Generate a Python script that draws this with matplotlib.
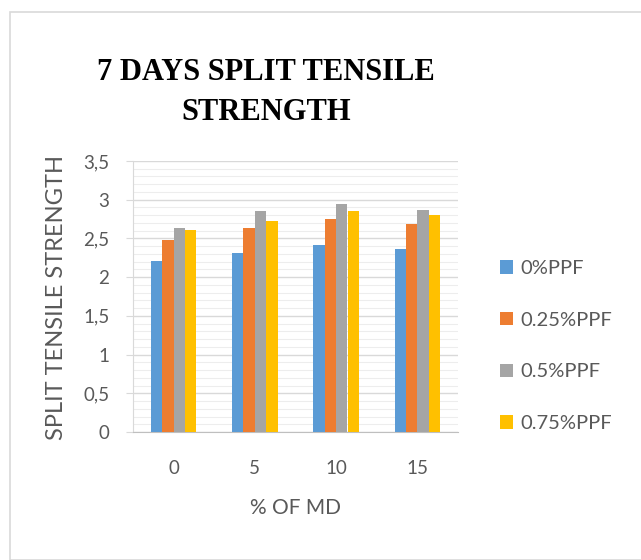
import numpy as np
import matplotlib.pyplot as plt
from matplotlib.patches import Rectangle
from matplotlib.ticker import MultipleLocator

# data
md_percent = ["0", "5", "10", "15"]
series_names = ["0%PPF", "0.25%PPF", "0.5%PPF", "0.75%PPF"]
ppf_0 = [2.21, 2.31, 2.41, 2.36]
ppf_025 = [2.48, 2.63, 2.75, 2.68]
ppf_05 = [2.63, 2.85, 2.95, 2.87]
ppf_075 = [2.61, 2.73, 2.85, 2.80]
colors = ["#5B9BD5", "#ED7D31", "#A5A5A5", "#FFC000"]

plt.rcParams['font.family'] = ['Lato', 'DejaVu Sans']
txt_color = "#595959"

fig = plt.figure(figsize=(6.41, 5.6), dpi=100)
fig.patches.append(Rectangle((10/641, 0.0), 1.0, 1 - 12/560, transform=fig.transFigure,
                             fill=False, edgecolor="#D9D9D9", linewidth=1.2))

ax = fig.add_axes([133/641, 1 - 432/560, (458 - 133)/641, (432 - 161)/560])

x = np.arange(len(md_percent))
w = 0.14
all_vals = [ppf_0, ppf_025, ppf_05, ppf_075]
for i, vals in enumerate(all_vals):
    ax.bar(x + (i - 1.5) * w, vals, width=w, color=colors[i], label=series_names[i], zorder=3)

ax.set_ylim(0, 3.5)
ax.set_xlim(-0.5, 3.5)
ax.yaxis.set_minor_locator(MultipleLocator(0.1))
ax.grid(which="major", axis="y", color="#D9D9D9", linewidth=1.0, zorder=0)
ax.grid(which="minor", axis="y", color="#EDEDED", linewidth=0.8, zorder=0)
ticks = np.arange(0, 3.51, 0.5)
ax.set_yticks(ticks)
ax.set_yticklabels([("%g" % v).replace(".", ",") for v in ticks])
ax.set_xticks(x)
ax.set_xticklabels(md_percent)
ax.tick_params(which="both", length=0, labelsize=13.5, colors=txt_color)
ax.tick_params(axis="y", which="major", length=5, color="#D9D9D9", pad=12)
ax.tick_params(axis="x", pad=20)
for s in ["top", "right"]:
    ax.spines[s].set_visible(False)
ax.spines["left"].set_color("#D9D9D9")
ax.spines["bottom"].set_color("#BFBFBF")

ax.set_xlabel("% OF MD", fontsize=15, color=txt_color)
ax.xaxis.set_label_coords(0.5, -(508 - 432) / 271, transform=ax.transAxes)
ax.xaxis.label.set_va("center")
fig.text(57/641, 1 - 298/560, "SPLIT TENSILE STRENGTH", rotation=90, ha="center", va="center",
         fontsize=17, color=txt_color)

fig.text(266/641, 1 - 73/560, "7 DAYS SPLIT TENSILE", ha="center", va="center",
         family="Liberation Serif", fontweight="bold", fontsize=22)
fig.text(266/641, 1 - 113/560, "STRENGTH", ha="center", va="center",
         family="Liberation Serif", fontweight="bold", fontsize=22)

leg = fig.legend(loc="center left", bbox_to_anchor=(482/641, 1 - 346/560), frameon=False,
                 fontsize=14.5, labelspacing=1.72, handlelength=0.65, handleheight=0.65,
                 handletextpad=0.35)
for t in leg.get_texts():
    t.set_color(txt_color)

fig.savefig("out.png", dpi=100)
